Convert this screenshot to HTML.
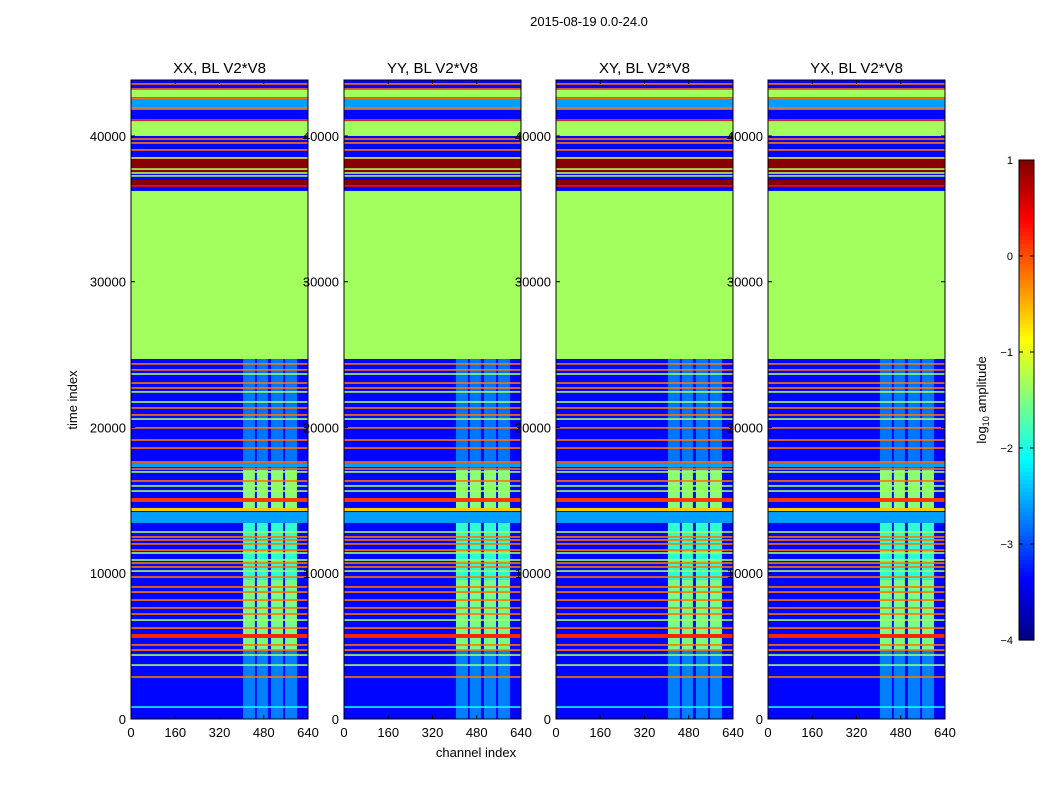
<!DOCTYPE html>
<html><head><meta charset="utf-8"><style>
html,body{margin:0;padding:0;background:#fff;}
svg text{font-family:"Liberation Sans",sans-serif;fill:#000;}
</style></head><body>
<svg id="fig" xmlns="http://www.w3.org/2000/svg" width="1050" height="800" viewBox="0 0 1050 800">
<rect width="1050" height="800" fill="#fff"/>
<text x="589" y="26" font-size="13" text-anchor="middle">2015-08-19 0.0-24.0</text>
<text x="476" y="757" font-size="13" text-anchor="middle">channel index</text>
<text transform="translate(77,400) rotate(-90)" font-size="13" text-anchor="middle">time index</text>
<g id="panels"></g>
<g id="cbar"></g>
</svg>
<script>
const panelTitles = ["XX, BL V2*V8","YY, BL V2*V8","XY, BL V2*V8","YX, BL V2*V8"];
const xTicks = [0,160,320,480,640];
const yTicks = [0,10000,20000,30000,40000];
const cbTicks = [1,0,-1,-2,-3,-4];
const bgValue = -3.35;
const bandStart = [42670,41780,40000,37390,36640,24700,17290,14890,14270,13450,5560];
const bandEnd   = [43160,42600,41020,38350,36980,36230,17560,15160,14480,14200,5830];
const bandValue = [-1.33,-2.6,-1.33,0.95,0.95,-1.33,-2.6,0.1,-0.6,-2.6,0.2];
const lineT = [43570,43220,42600,41920,41100,39790,39520,39040,38490,37730,37460,37260,36570,
  24360,23950,23670,23050,22710,22440,21750,21340,20860,20580,19970,19140,18590,17630,17150,16950,16330,15990,15640,
  12830,12490,12280,12010,11590,11390,10910,10700,10430,10150,9740,9060,8710,8160,7620,7200,6790,6240,5080,4730,4390,3700,2880,820];
const lineV = [-0.2,-0.2,-0.2,-0.2,0.1,-0.2,-0.2,-0.2,-0.8,-1.33,-1.33,-1.33,0.3,
  -0.2,-0.2,-1.33,-0.2,-0.2,-1.33,-1.33,-0.2,-0.2,-1.33,-0.2,-0.2,-0.2,-0.2,-0.2,-1.33,-0.2,-1.33,-1.33,
  -1.33,-0.2,-0.2,-0.2,-0.2,-1.33,-1.33,-0.2,-0.2,-1.33,-0.2,-0.2,-0.2,-0.2,-0.2,-0.2,-1.33,-0.2,-0.2,-0.2,-1.33,-1.33,-0.2,-2.1];
const colStart = [405,455,506,557];
const colEnd   = [448,495,550,600];
const blockStart = [0,4700,9540,14330,17080];
const blockEnd   = [4700,9540,13450,17080,24700];
const blockValue = [-2.75,-1.55,-1.9,-1.45,-2.8];

const NS="http://www.w3.org/2000/svg";
function jet(v){
  let f=(v+4)/5; f=Math.max(0,Math.min(1,f));
  const c=x=>Math.round(255*Math.max(0,Math.min(1,x)));
  const r=Math.min(4*f-1.5,-4*f+4.5), g=Math.min(4*f-0.5,-4*f+3.5), b=Math.min(4*f+0.5,-4*f+2.5);
  return `rgb(${c(r)},${c(g)},${c(b)})`;
}
function mk(tag,attrs,parent){const e=document.createElementNS(NS,tag);for(const k in attrs)e.setAttribute(k,attrs[k]);parent.appendChild(e);return e;}
const panelX=[131,344,556,768], PW=177, PT=80, PB=719, TMAX=43840;
const G=document.getElementById('panels');
panelX.forEach((x0,pi)=>{
  const g=mk('g',{},G);
  
  
  const sx=c=>x0+c/640*PW, sy=t=>PB-t/TMAX*(PB-PT);
  const bg=mk('rect',{x:x0,y:PT,width:PW,height:PB-PT,fill:jet(bgValue)},g);
  
  
  blockStart.forEach((t0,bi)=>{colStart.forEach((c0,ci)=>{
    const r=mk('rect',{x:sx(c0),y:sy(blockEnd[bi]),width:sx(colEnd[ci])-sx(c0),height:sy(t0)-sy(blockEnd[bi]),fill:jet(blockValue[bi])},g);
    
    
  });});
  bandStart.forEach((t0,i)=>{
    const r=mk('rect',{x:x0,y:sy(bandEnd[i]),width:PW,height:sy(t0)-sy(bandEnd[i]),fill:jet(bandValue[i])},g);
    
    
  });
  lineT.forEach((t,i)=>{
    const r=mk('rect',{x:x0,y:sy(t)-0.8,width:PW,height:1.6,fill:jet(lineV[i])},g);
    
    
  });
  mk('rect',{x:x0,y:PT,width:PW,height:PB-PT,fill:'none',stroke:'#000','stroke-width':1},g);
  const tt=mk('text',{x:x0+PW/2,y:73,'font-size':15,'text-anchor':'middle'},g);tt.textContent=panelTitles[pi];
  
  
  xTicks.forEach(v=>{
    const X=sx(v);
    mk('line',{x1:X,x2:X,y1:PB,y2:PB-4,stroke:'#000'},g);
    mk('line',{x1:X,x2:X,y1:PT,y2:PT+4,stroke:'#000'},g);
    const t=mk('text',{x:X,y:PB+18,'font-size':13,'text-anchor':'middle'},g);t.textContent=v;
    
    
  });
  yTicks.forEach(v=>{
    const Y=sy(v);
    mk('line',{x1:x0,x2:x0+4,y1:Y,y2:Y,stroke:'#000'},g);
    mk('line',{x1:x0+PW,x2:x0+PW-4,y1:Y,y2:Y,stroke:'#000'},g);
    const t=mk('text',{x:x0-5,y:Y+5,'font-size':13,'text-anchor':'end'},g);t.textContent=v;
    
    
  });
});
const C=document.getElementById('cbar');


const cx=1019,cw=15,ct=160,cb=640;
for(let i=0;i<120;i++){
  const v=1-5*(i+0.5)/120;
  mk('rect',{x:cx,y:ct+i*(cb-ct)/120,width:cw,height:(cb-ct)/120+0.6,fill:jet(v)},C);
}
mk('rect',{x:cx,y:ct,width:cw,height:cb-ct,fill:'none',stroke:'#000'},C);
cbTicks.forEach(v=>{
  const Y=ct+(1-v)/5*(cb-ct);
  mk('line',{x1:cx,x2:cx+4,y1:Y,y2:Y,stroke:'#000'},C);
  mk('line',{x1:cx+cw,x2:cx+cw-4,y1:Y,y2:Y,stroke:'#000'},C);
  const t=mk('text',{x:1013,y:Y+4,'font-size':11,'text-anchor':'end'},C);t.textContent=(v<0?'\u2212'+(-v):v);
  
  
});
const cl=mk('text',{transform:'translate(986,400) rotate(-90)','font-size':13,'text-anchor':'middle'},C);
cl.innerHTML='log<tspan font-size="9" dy="3">10</tspan><tspan dy="-3"> amplitude</tspan>';


</script>
</body></html>
